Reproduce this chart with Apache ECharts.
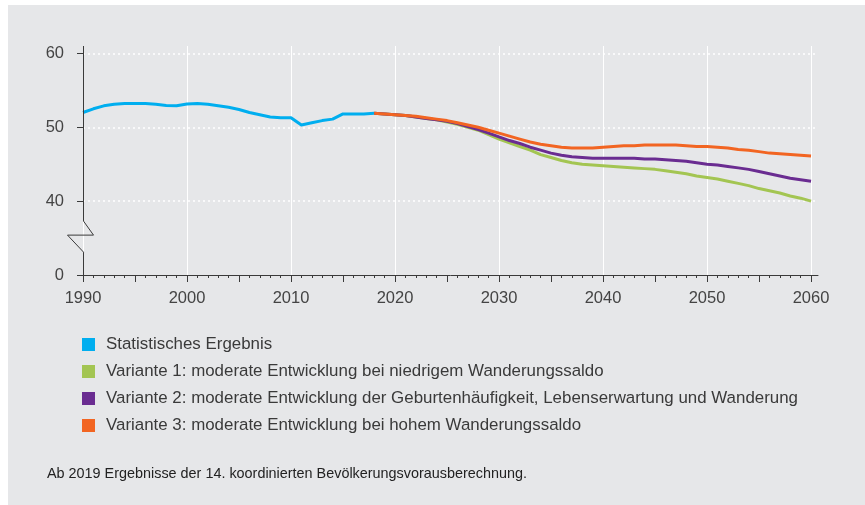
<!DOCTYPE html>
<html>
<head>
<meta charset="utf-8">
<script src="https://cdn.jsdelivr.net/npm/echarts@6/dist/echarts.min.js"></script>
<style>
  html, body { margin: 0; padding: 0; background: #fff; }
  .wrap { position: relative; width: 865px; height: 505px; }
  .panel { position: absolute; left: 8px; top: 5px; right: 0; bottom: 0; background: #e6e7e9; }
  #chart { position: absolute; left: 0; top: 0; width: 865px; height: 505px; }
</style>
</head>
<body>
<div class="wrap"><div class="panel"></div><div id="chart"></div></div>
<script>
// Statistisches Ergebnis, 1990-2018
var histStart = 1990;
var histValues = [52.0, 52.5, 52.9, 53.1, 53.2, 53.2, 53.2, 53.1, 52.95, 52.9,
                  53.15, 53.2, 53.1, 52.9, 52.7, 52.4, 52.0, 51.7, 51.4, 51.3,
                  51.3, 50.3, 50.6, 50.9, 51.1, 51.8, 51.8, 51.8, 51.9];

// Vorausberechnung, 2018-2060
var projStart = 2018;
var variant1 = [51.9, 51.8, 51.7, 51.6, 51.4, 51.2, 51.0, 50.7, 50.4, 50.0,
                49.6, 49.0, 48.4, 47.9, 47.4, 46.9, 46.3, 45.9, 45.5, 45.2,
                45.0, 44.9, 44.8, 44.7, 44.6, 44.5, 44.4, 44.3, 44.1, 43.9,
                43.7, 43.4, 43.2, 43.0, 42.7, 42.4, 42.1, 41.7, 41.4, 41.1,
                40.7, 40.4, 40.0];
var variant2 = [51.9, 51.8, 51.7, 51.6, 51.4, 51.2, 51.0, 50.8, 50.5, 50.1,
                49.7, 49.2, 48.7, 48.2, 47.8, 47.3, 46.9, 46.5, 46.2, 46.0,
                45.9, 45.8, 45.8, 45.8, 45.8, 45.8, 45.7, 45.7, 45.6, 45.5,
                45.4, 45.2, 45.0, 44.9, 44.7, 44.5, 44.3, 44.0, 43.7, 43.4,
                43.1, 42.9, 42.7];
var variant3 = [51.9, 51.8, 51.7, 51.6, 51.5, 51.3, 51.1, 50.9, 50.6, 50.3,
                50.0, 49.6, 49.2, 48.8, 48.4, 48.0, 47.7, 47.5, 47.3, 47.2,
                47.2, 47.2, 47.3, 47.4, 47.5, 47.5, 47.6, 47.6, 47.6, 47.6,
                47.5, 47.4, 47.4, 47.3, 47.2, 47.0, 46.9, 46.7, 46.5, 46.4,
                46.3, 46.2, 46.1];

var seriesNames = [
  'Statistisches Ergebnis',
  'Variante 1: moderate Entwicklung bei niedrigem Wanderungssaldo',
  'Variante 2: moderate Entwicklung der Geburtenhäufigkeit, Lebenserwartung und Wanderung',
  'Variante 3: moderate Entwicklung bei hohem Wanderungssaldo'
];
var seriesColors = ['#00aeef', '#a3c552', '#6a2c91', '#f26522'];

// axis ticks / labels
var xLabelValues = [1990, 2000, 2010, 2020, 2030, 2040, 2050, 2060];
var xMajorTicks = [1990, 1995, 2000, 2005, 2010, 2015, 2020, 2025, 2030,
                   2035, 2040, 2045, 2050, 2055, 2060];
var yTickValues = [30, 40, 50, 60];
var yTickLabels = ['0', '40', '50', '60'];  // axis is broken below 40
var footnote = 'Ab 2019 Ergebnisse der 14. koordinierten Bevölkerungsvorausberechnung.';

var FONT = "'Liberation Sans', Arial, sans-serif";
var AXIS = '#3a3a3a';

function pairs(start, values) {
  return values.map(function (v, i) { return [start + i, v]; });
}
var xMinorTicks = [];
for (var y = 1990; y <= 2060; y++) xMinorTicks.push(y);

var chart = echarts.init(document.getElementById('chart'));
var option = {
  animation: false,
  backgroundColor: 'transparent',
  textStyle: { fontFamily: FONT },
  title: {
    text: footnote,
    left: 42,
    top: 462,
    textStyle: { fontSize: 14.4, fontWeight: 'normal', color: '#222', fontFamily: FONT }
  },
  grid: { left: 83, right: 47, top: 46, bottom: 230, outerBoundsMode: 'none' },
  legend: {
    orient: 'vertical',
    left: 77,
    top: 331,
    itemWidth: 13,
    itemHeight: 13,
    itemGap: 10,
    icon: 'rect',
    selectedMode: false,
    itemStyle: { borderWidth: 0 },
    textStyle: { fontSize: 16.9, color: '#3a3a3a', fontFamily: FONT, padding: [0, 0, 0, 6] },
    data: seriesNames
  },
  xAxis: [{
    type: 'value',
    min: 1990,
    max: 2060.67,
    interval: 10,
    position: 'bottom',
    axisLine: { show: true, lineStyle: { color: AXIS, width: 1 } },
    axisTick: { show: true, length: 7, customValues: xMajorTicks, lineStyle: { color: AXIS } },
    axisLabel: {
      customValues: xLabelValues,
      margin: 15,
      fontSize: 16.5,
      color: '#444',
      fontFamily: FONT,
      formatter: function (v) { return String(v); }
    },
    // grid lines only every decade (ticks are every 5 years)
    splitLine: { show: true, lineStyle: { color: ['#ffffff', 'rgba(0,0,0,0)'], width: 1 } }
  }, {
    type: 'value',
    min: 1990,
    max: 2060.67,
    position: 'bottom',
    axisLine: { show: false },
    axisTick: { show: true, length: 3, customValues: xMinorTicks, lineStyle: { color: AXIS } },
    axisLabel: { show: false },
    splitLine: { show: false }
  }],
  yAxis: {
    type: 'value',
    min: 30,
    max: 61,
    interval: 10,
    axisLine: { show: false },
    axisTick: { show: true, length: 6, customValues: yTickValues, lineStyle: { color: AXIS } },
    axisLabel: {
      customValues: yTickValues,
      margin: 19,
      fontSize: 16.5,
      color: '#444',
      fontFamily: FONT,
      formatter: function (v) { return yTickLabels[yTickValues.indexOf(v)]; }
    },
    splitLine: {
      show: true, showMinLine: false, showMaxLine: true,
      lineStyle: { color: '#ffffff', width: 1.5, type: [2, 3] }
    }
  },
  series: [
    [histStart, histValues],
    [projStart, variant1],
    [projStart, variant2],
    [projStart, variant3]
  ].map(function (d, i) {
    return {
      name: seriesNames[i],
      type: 'line',
      xAxisIndex: 0,
      data: pairs(d[0], d[1]),
      showSymbol: false,
      symbol: 'none',
      color: seriesColors[i],
      itemStyle: { color: seriesColors[i] },
      lineStyle: { color: seriesColors[i], width: 3, join: 'round' },
      emphasis: { disabled: true }
    };
  })
};
chart.setOption(option);

// y-axis line with break symbol between 0 and 40
var x0 = Math.round(chart.convertToPixel({ xAxisIndex: 0 }, 1990)) + 0.5;
function py(v) { return chart.convertToPixel({ yAxisIndex: 0 }, v); }
chart.setOption({
  graphic: [{
    type: 'polyline',
    silent: true,
    z: 10,
    shape: {
      points: [
        [x0, py(61)], [x0, py(37.3)], [x0 + 10, py(35.4)],
        [x0 - 16, py(35.4)], [x0, py(33.1)], [x0, py(30)]
      ]
    },
    style: { stroke: AXIS, lineWidth: 1, fill: null }
  }]
});
</script>
</body>
</html>
